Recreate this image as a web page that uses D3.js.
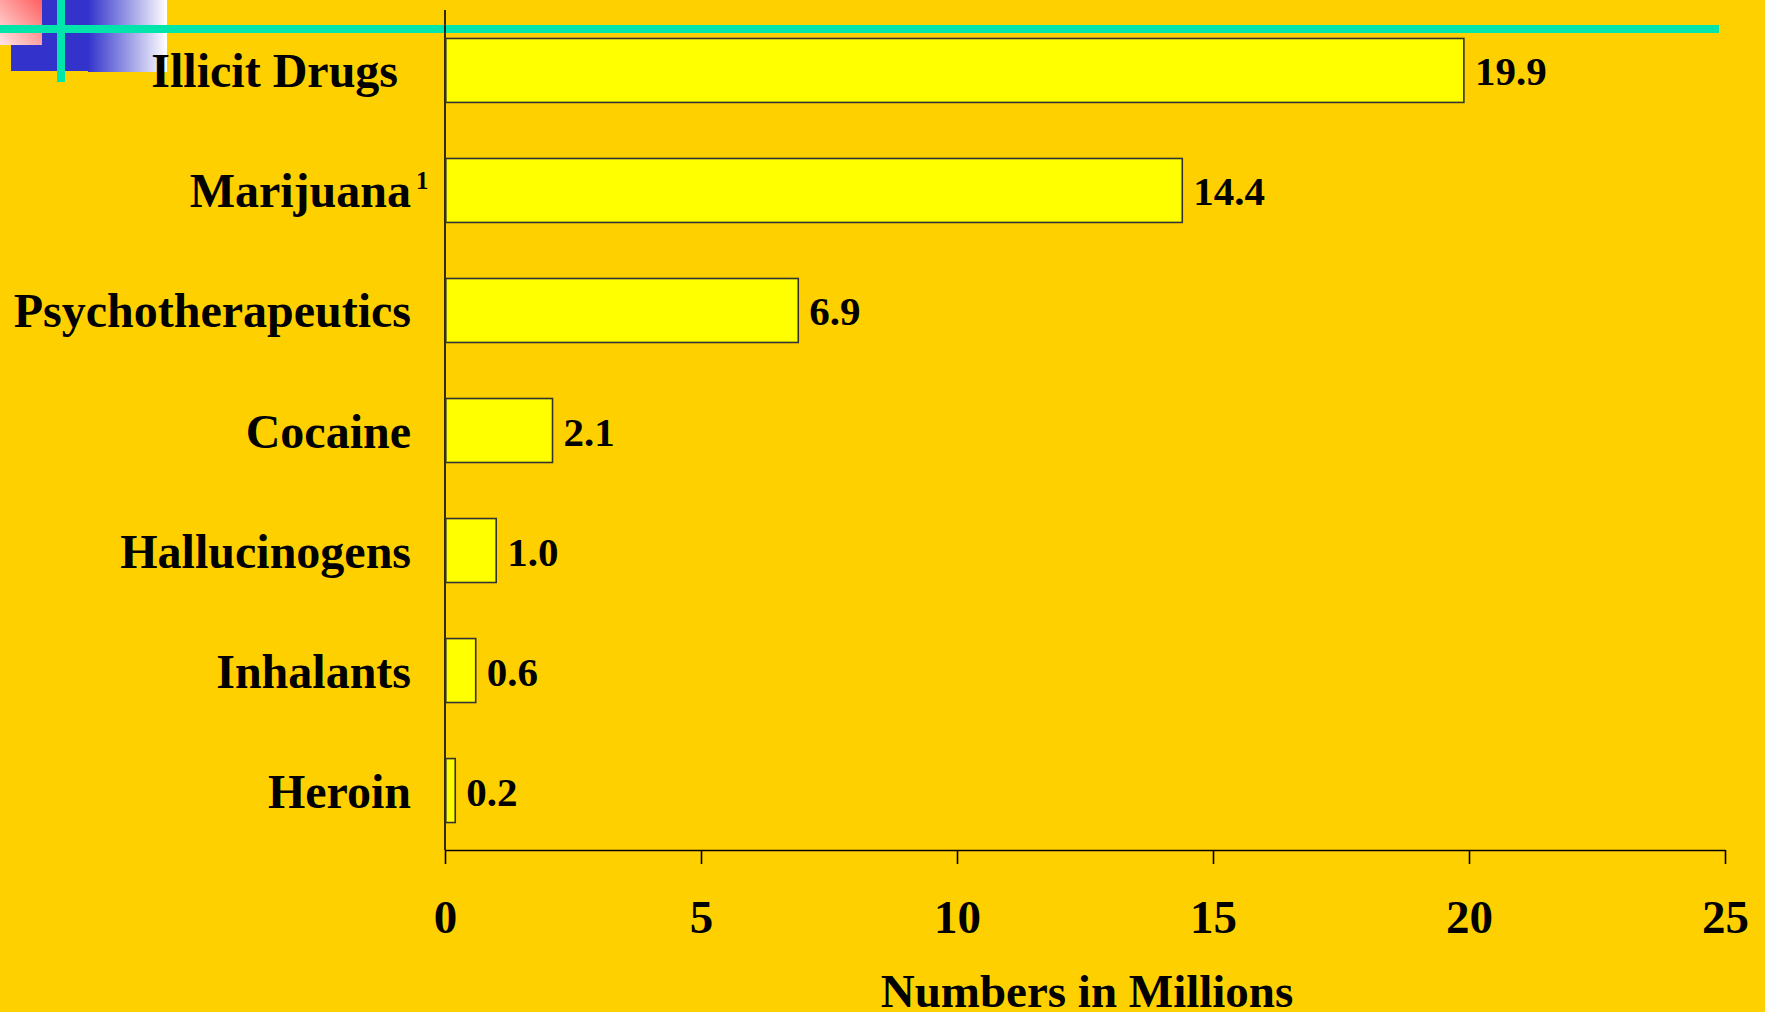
<!DOCTYPE html>
<html>
<head>
<meta charset="utf-8">
<script src="https://cdn.jsdelivr.net/npm/d3@7"></script>
<style>
  html, body { margin: 0; padding: 0; background: #FFD000; }
  svg { display: block; }
  text { font-family: "Liberation Serif", "Times New Roman", serif; font-weight: bold; fill: #000; }
</style>
</head>
<body>
<svg id="chart" width="1765" height="1012"></svg>
<script>
// Past-month users of illicit drugs, in millions
const categories = ["Illicit Drugs", "Marijuana", "Psychotherapeutics", "Cocaine", "Hallucinogens", "Inhalants", "Heroin"];
const values = [19.9, 14.4, 6.9, 2.1, 1.0, 0.6, 0.2];
const valueLabels = ["19.9", "14.4", "6.9", "2.1", "1.0", "0.6", "0.2"];
const footnotes = ["", "1", "", "", "", "", ""];
const xTicks = [0, 5, 10, 15, 20, 25];
const xTitle = "Numbers in Millions";

const svg = d3.select("#chart");
const W = 1765, H = 1012;

// background
svg.append("rect").attr("width", W).attr("height", H).attr("fill", "#FFD000");

// slide corner ornament
const defs = svg.append("defs");
const gBlue = defs.append("linearGradient").attr("id", "blueFade").attr("x1", 0).attr("x2", 1).attr("y1", 0).attr("y2", 0);
gBlue.append("stop").attr("offset", 0).attr("stop-color", "#3333CC");
gBlue.append("stop").attr("offset", 1).attr("stop-color", "#FFFFFF");
const gPink = defs.append("linearGradient").attr("id", "pinkFade").attr("x1", 1).attr("y1", 0).attr("x2", 0).attr("y2", 1);
gPink.append("stop").attr("offset", 0).attr("stop-color", "#FF5F5F");
gPink.append("stop").attr("offset", 1).attr("stop-color", "#FFE6E6");

const orn = svg.append("g");
orn.append("rect").attr("x", 11).attr("y", 0).attr("width", 78).attr("height", 71).attr("fill", "#3333CC");
orn.append("rect").attr("x", 88).attr("y", 0).attr("width", 79).attr("height", 72).attr("fill", "url(#blueFade)");
orn.append("rect").attr("x", 0).attr("y", 0).attr("width", 42).attr("height", 45).attr("fill", "url(#pinkFade)");
orn.append("rect").attr("x", 0).attr("y", 25).attr("width", 1719).attr("height", 8).attr("fill", "#00E5AA");
orn.append("rect").attr("x", 57).attr("y", 0).attr("width", 8).attr("height", 82).attr("fill", "#00E5AA");

// scales
const x = d3.scaleLinear().domain([0, 25]).range([445, 1725]);
const y = d3.scaleBand().domain(categories).range([10.5, 850.5]).paddingInner(0.467).paddingOuter(0.233);

// x axis
const xAxis = svg.append("g")
  .attr("transform", "translate(0,850)")
  .call(d3.axisBottom(x).tickValues(xTicks).tickSize(14).tickSizeOuter(0).tickFormat(d3.format("d")));
xAxis.select(".domain").attr("stroke", "#000").attr("stroke-width", 1.6);
xAxis.selectAll(".tick line").attr("stroke", "#000").attr("stroke-width", 1.6);
xAxis.selectAll(".tick text")
  .attr("y", 83).attr("dy", 0)
  .style("font-family", '"Liberation Serif", "Times New Roman", serif')
  .style("font-weight", "bold").style("font-size", "47px").attr("fill", "#000");

// y axis line
svg.append("line").attr("x1", 445).attr("x2", 445).attr("y1", 10).attr("y2", 850)
  .attr("stroke", "#000").attr("stroke-width", 1.6);

// bars
svg.append("g").selectAll("rect")
  .data(categories)
  .join("rect")
  .attr("x", x(0) + 0.8)
  .attr("y", d => y(d))
  .attr("width", (d, i) => x(values[i]) - x(0) - 0.8)
  .attr("height", y.bandwidth())
  .attr("fill", "#FFFF00")
  .attr("stroke", "#333")
  .attr("stroke-width", 1.6);

// value labels
svg.append("g").selectAll("text")
  .data(categories)
  .join("text")
  .attr("x", (d, i) => x(values[i]) + 11)
  .attr("y", d => y(d) + y.bandwidth() / 2 + 15)
  .style("font-size", "41px")
  .text((d, i) => valueLabels[i]);

// category labels
const catG = svg.append("g");
categories.forEach((c, i) => {
  const cy = y(c) + y.bandwidth() / 2 + 17;
  catG.append("text")
    .attr("x", i === 0 ? 398 : 411)
    .attr("y", cy)
    .attr("text-anchor", "end")
    .style("font-size", "48px")
    .text(c);
  if (footnotes[i]) {
    catG.append("text")
      .attr("x", 416)
      .attr("y", cy - 18.5)
      .style("font-size", "25px")
      .text(footnotes[i]);
  }
});

// axis title
svg.append("text")
  .attr("x", (x(0) + x(25)) / 2 + 2)
  .attr("y", 1007)
  .attr("text-anchor", "middle")
  .style("font-size", "47px")
  .text(xTitle);
</script>
</body>
</html>
